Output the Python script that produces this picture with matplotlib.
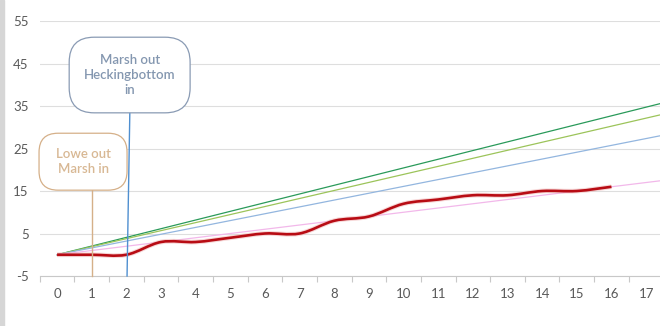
import matplotlib
matplotlib.use("Agg")
import matplotlib.pyplot as plt
import matplotlib.transforms as mtransforms
from matplotlib.path import Path
from matplotlib.patches import PathPatch, FancyBboxPatch, Rectangle
import numpy as np

plt.rcParams['font.family'] = ['Lato', 'DejaVu Sans']
plt.rcParams['axes.unicode_minus'] = False

# games played (category axis) and cumulative points
games = list(range(18))
points = [0, 0, 0, 3, 3, 4, 5, 5, 8, 9, 12, 13, 14, 14, 15, 15, 16]

# season pace lines: points needed over a 46 game season
season_length = 46
pace_targets = [94, 87, 74, 46]
pace_colors = ['#2a9a5a', '#9cc45a', '#93b6df', '#f2b8ea']

y_ticks = [-5, 5, 15, 25, 35, 45, 55]

# callouts: (text, top x, bottom x, box corners in data units, edge, text colour, line colour, rounding px)
callouts = [
    ("Lowe out\nMarsh in", 1.0, 1.0, (-0.52, 15.2, 2.02, 28.6), '#d5b089', '#d8b894', '#d5b089', 19),
    ("Marsh out\nHeckingbottom\nin", 2.1, 2.02, (0.35, 33.4, 3.84, 51.2), '#8a9bb4', '#8497b0', '#4f8fd0', 25),
]


def smooth_path(xs, ys):
    # excel style smoothed line: cubic bezier through each point
    pts = np.column_stack([xs, ys]).astype(float)
    n = len(pts)
    verts = [pts[0]]
    codes = [Path.MOVETO]
    for i in range(n - 1):
        p0 = pts[max(i - 1, 0)]
        p1 = pts[i]
        p2 = pts[i + 1]
        p3 = pts[min(i + 2, n - 1)]
        c1 = p1 + (p2 - p0) / 6.0
        c2 = p2 - (p3 - p1) / 6.0
        verts += [c1, c2, p2]
        codes += [Path.CURVE4] * 3
    return Path(verts, codes)


fig = plt.figure(figsize=(6.6, 3.26), dpi=100)
fig.patches.append(Rectangle((0, 0), 4 / 660, 1, transform=fig.transFigure,
                             color='#d6d6d6', zorder=0))
ax = fig.add_axes([0.0602, 0.1534, 0.945, 0.782])
ax.set_xlim(-0.5, 17.5)
ax.set_ylim(-5, 55)

for spine in ['left', 'right', 'top']:
    ax.spines[spine].set_visible(False)
ax.spines['bottom'].set_color('#c8c8c8')
ax.spines['bottom'].set_linewidth(0.8)

ax.set_yticks(y_ticks)
ax.set_xticks(games)
ax.set_xticks(np.arange(-0.5, 18, 1), minor=True)
ax.tick_params(axis='y', length=0, pad=8, labelsize=9.5, labelcolor='#595959')
ax.tick_params(axis='x', which='major', length=0, pad=9, labelsize=9.5, labelcolor='#595959')
ax.tick_params(axis='x', which='minor', length=4, width=0.8, color='#c8c8c8')
ax.grid(axis='y', color='#dedede', linewidth=0.8)
ax.set_axisbelow(True)

for target, col in zip(pace_targets, pace_colors):
    ax.plot([0, season_length], [0, target], color=col, linewidth=0.9, zorder=2)

ax.add_patch(PathPatch(smooth_path(games[:len(points)], points), fill=False,
                       edgecolor='#eeb0b0', linewidth=3.4, alpha=0.5, zorder=3))
ax.add_patch(PathPatch(smooth_path(games[:len(points)], points), fill=False,
                       edgecolor='#b80c14', linewidth=1.9, zorder=4))

# callout boxes drawn in pixels so the rounded corners stay round
for text, top_x, bottom_x, (x0, y0, x1, y1), edge, tcol, lcol, rnd in callouts:
    ax.plot([top_x, bottom_x], [y0, -5], color=lcol, linewidth=1, zorder=5, clip_on=False)
    (px0, py0), (px1, py1) = ax.transData.transform([(x0, y0), (x1, y1)])
    box = FancyBboxPatch((px0 + rnd, py0 + rnd), px1 - px0 - 2 * rnd, py1 - py0 - 2 * rnd,
                         boxstyle="round,pad=%d,rounding_size=%d" % (rnd, rnd),
                         transform=mtransforms.IdentityTransform(),
                         facecolor='white', edgecolor=edge, linewidth=0.9,
                         zorder=6, clip_on=False)
    ax.add_artist(box)
    ax.text((x0 + x1) / 2, (y0 + y1) / 2, text, ha='center', va='center',
            color=tcol, fontsize=9.5, fontweight='semibold', linespacing=1.3, zorder=7)

fig.savefig('out.png', dpi=100)
